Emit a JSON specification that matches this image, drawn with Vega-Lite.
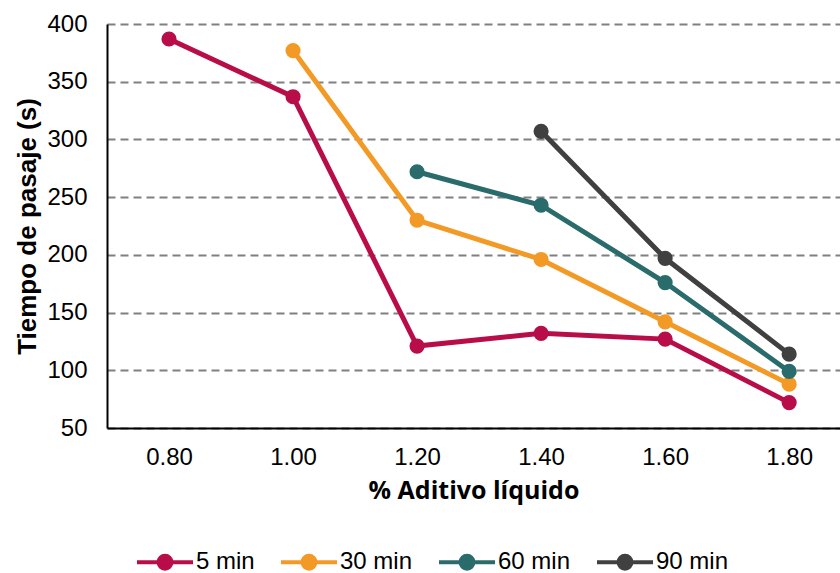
{
  "$schema": "https://vega.github.io/schema/vega-lite/v6.json",
  "width": 733,
  "height": 404,
  "autosize": "none",
  "padding": {"left": 107, "top": 24, "right": 0, "bottom": 145},
  "background": "white",
  "config": {
    "view": {"stroke": null},
    "font": "Liberation Sans"
  },
  "data": {
    "values": [
      {"serie": "5 min", "aditivo": 0.8, "tiempo": 387},
      {"serie": "5 min", "aditivo": 1.0, "tiempo": 337},
      {"serie": "5 min", "aditivo": 1.2, "tiempo": 121},
      {"serie": "5 min", "aditivo": 1.4, "tiempo": 132},
      {"serie": "5 min", "aditivo": 1.6, "tiempo": 127},
      {"serie": "5 min", "aditivo": 1.8, "tiempo": 72},
      {"serie": "30 min", "aditivo": 1.0, "tiempo": 377},
      {"serie": "30 min", "aditivo": 1.2, "tiempo": 230},
      {"serie": "30 min", "aditivo": 1.4, "tiempo": 196},
      {"serie": "30 min", "aditivo": 1.6, "tiempo": 142},
      {"serie": "30 min", "aditivo": 1.8, "tiempo": 88},
      {"serie": "60 min", "aditivo": 1.2, "tiempo": 272},
      {"serie": "60 min", "aditivo": 1.4, "tiempo": 243},
      {"serie": "60 min", "aditivo": 1.6, "tiempo": 176},
      {"serie": "60 min", "aditivo": 1.8, "tiempo": 99},
      {"serie": "90 min", "aditivo": 1.4, "tiempo": 307},
      {"serie": "90 min", "aditivo": 1.6, "tiempo": 197},
      {"serie": "90 min", "aditivo": 1.8, "tiempo": 114}
    ]
  },
  "encoding": {
    "x": {
      "field": "aditivo",
      "type": "quantitative",
      "scale": {"domain": [0.7, 1.882], "nice": false, "zero": false},
      "axis": {
        "title": "% Aditivo líquido",
        "values": [0.8, 1.0, 1.2, 1.4, 1.6, 1.8],
        "format": ".2f",
        "grid": false,
        "ticks": false,
        "domainColor": "black",
        "domainWidth": 2,
        "labelFont": "Liberation Sans",
        "labelFontSize": 24,
        "labelColor": "black",
        "labelPadding": 17,
        "labelFlush": false,
        "titleFont": "Open Sans",
        "titleFontSize": 25,
        "titleFontWeight": "bold",
        "titleColor": "black",
        "titlePadding": 9
      }
    },
    "y": {
      "field": "tiempo",
      "type": "quantitative",
      "scale": {"domain": [50, 400], "nice": false, "zero": false},
      "axis": {
        "title": "Tiempo de pasaje (s)",
        "values": [50, 100, 150, 200, 250, 300, 350, 400],
        "ticks": false,
        "domainColor": "black",
        "domainWidth": 2,
        "grid": true,
        "gridColor": "#808080",
        "gridDash": [8, 5],
        "gridWidth": 2,
        "labelFont": "Liberation Sans",
        "labelFontSize": 24,
        "labelColor": "black",
        "labelPadding": 20,
        "titleFont": "Liberation Sans",
        "titleFontSize": 26,
        "titleFontWeight": "bold",
        "titleColor": "black",
        "titlePadding": 6
      }
    },
    "color": {
      "field": "serie",
      "type": "nominal",
      "scale": {
        "domain": ["5 min", "30 min", "60 min", "90 min"],
        "range": ["#B80D48", "#F39A26", "#2A6B6B", "#404040"]
      },
      "legend": {
        "title": null,
        "orient": "none",
        "legendX": 42,
        "legendY": 522,
        "direction": "horizontal",
        "symbolType": "M-2,0H2M-0.46,0A0.46,0.46 0 1,1 0.46,0A0.46,0.46 0 1,1 -0.46,0",
        "symbolSize": 784,
        "symbolStrokeWidth": 4,
        "symbolOpacity": 1,
        "labelFont": "Liberation Sans",
        "labelFontSize": 24,
        "labelColor": "black",
        "labelOffset": 15,
        "columnPadding": 18
      }
    }
  },
  "layer": [
    {"mark": {"type": "line", "strokeWidth": 5}},
    {"mark": {"type": "point", "filled": true, "opacity": 1, "size": 230}}
  ]
}
